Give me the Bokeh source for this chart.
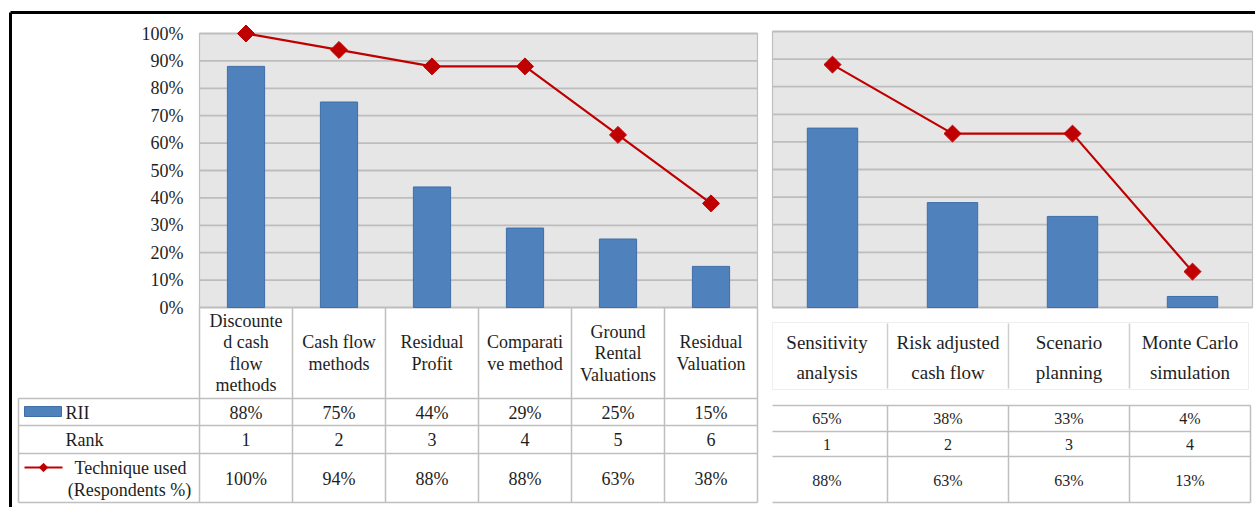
import math
from bokeh.plotting import figure
from bokeh.models import Range1d
from bokeh.embed import file_html
from bokeh.resources import INLINE
from bokeh.core.properties import value

# ---------------- data ----------------
left_categories = ["Discounte\nd cash\nflow\nmethods", "Cash flow\nmethods", "Residual\nProfit",
                   "Comparati\nve method", "Ground\nRental\nValuations", "Residual\nValuation"]
left_rii = [0.88, 0.75, 0.44, 0.29, 0.25, 0.15]
left_rank = [1, 2, 3, 4, 5, 6]
left_used = [1.00, 0.94, 0.88, 0.88, 0.63, 0.38]

right_categories = ["Sensitivity\nanalysis", "Risk adjusted\ncash flow", "Scenario\nplanning",
                    "Monte Carlo\nsimulation"]
right_rii = [0.65, 0.38, 0.33, 0.04]
right_rank = [1, 2, 3, 4]
right_used = [0.88, 0.63, 0.63, 0.13]

y_ticks = [0.0, 0.1, 0.2, 0.3, 0.4, 0.5, 0.6, 0.7, 0.8, 0.9, 1.0]
y_tick_labels = ["0%", "10%", "20%", "30%", "40%", "50%", "60%", "70%", "80%", "90%", "100%"]
series_rii_name = "RII"
series_rank_name = "Rank"
series_used_name = ["Technique used", "(Respondents %)"]

# ---------------- layout constants ----------------
W, H = 1255, 507
LX0, LX1, LY0, LY1 = 199, 757, 307, 33      # left plot area (px)
RX0, RX1, RY0, RY1 = 772, 1252, 307, 31     # right plot area (px)
RTX0, RTX1 = 766, 1250                      # right table columns (px)

FONT = value("Liberation Serif")
TXT = "#1e1e1e"
GRID = "#BDBDBD"
BG = "#E6E6E6"
BLUE = "#4F81BD"
BLUE_EDGE = "#3F6EA6"
RED = "#C00000"
TLINE = "#BFBFBF"


def cat_range(x0, x1, n):
    u = (x1 - x0) / n
    return Range1d(start=-x0 / u, end=n + (W - x1) / u)


def pct_range(y0, y1):
    u = y0 - y1
    return Range1d(start=-(H - y0) / u, end=1 + y1 / u)


def pct(v):
    return f"{round(v * 100)}%"


p = figure(width=W, height=H, x_range=Range1d(0, W), y_range=Range1d(H, 0),
           x_axis_type=None, y_axis_type=None, min_border=0,
           toolbar_location=None, output_backend="svg",
           outline_line_color=None, background_fill_color="white",
           border_fill_color="white")
p.grid.visible = False
p.extra_x_ranges = {"L": cat_range(LX0, LX1, len(left_categories)),
                    "R": cat_range(RX0, RX1, len(right_categories)),
                    "RT": cat_range(RTX0, RTX1, len(right_categories))}
p.extra_y_ranges = {"pL": pct_range(LY0, LY1), "pR": pct_range(RY0, RY1)}


def panel(xr, yr, cats, rii, used, bar_w):
    n = len(cats)
    p.quad(left=0, right=n, bottom=0, top=1, x_range_name=xr, y_range_name=yr,
           fill_color=BG, line_color=TLINE, line_width=1.2)
    p.segment(x0=[0] * len(y_ticks), x1=[n] * len(y_ticks), y0=y_ticks, y1=y_ticks,
              x_range_name=xr, y_range_name=yr, line_color=GRID, line_width=1.8)
    xs = [i + 0.5 for i in range(n)]
    p.vbar(x=xs, top=rii, bottom=0, width=bar_w, x_range_name=xr, y_range_name=yr,
           fill_color=BLUE, line_color=BLUE_EDGE, line_width=1)
    p.line(xs, used, x_range_name=xr, y_range_name=yr, line_color=RED, line_width=2.2)
    p.scatter(xs, used, x_range_name=xr, y_range_name=yr, marker="square",
              angle=math.pi / 4, size=12, fill_color=RED, line_color=RED)


panel("L", "pL", left_categories, left_rii, left_used, 0.4)
panel("R", "pR", right_categories, right_rii, right_used, 0.42)

# y tick labels
p.text(x=[183] * len(y_ticks), y=y_ticks, text=y_tick_labels, y_range_name="pL",
       text_align="right", text_baseline="middle", text_font=FONT,
       text_font_size="18px", text_color=TXT)


def header(xr, cats, yc, lh, size):
    xs, ys, ts = [], [], []
    for i, c in enumerate(cats):
        lines = c.split("\n")
        for k, t in enumerate(lines):
            xs.append(i + 0.5)
            ys.append(yc + (k - (len(lines) - 1) / 2) * lh)
            ts.append(t)
    p.text(x=xs, y=ys, text=ts, x_range_name=xr, text_align="center",
           text_baseline="middle", text_font=FONT, text_font_size=size, text_color=TXT)


# ---------- left table ----------
nL = len(left_categories)
p.segment(x0=list(range(nL + 1)), x1=list(range(nL + 1)), y0=[LY0] * (nL + 1),
          y1=[502] * (nL + 1), x_range_name="L", line_color=TLINE, line_width=1.5)
p.segment(x0=[18] * 4, x1=[LX1] * 4, y0=[398, 425, 453, 502], y1=[398, 425, 453, 502],
          line_color=TLINE, line_width=1.5)
p.segment(x0=[18], x1=[18], y0=[398], y1=[502], line_color=TLINE, line_width=1.5)
header("L", left_categories, 352.5, 21.5, "18px")
xsL = [i + 0.5 for i in range(nL)]
for vals, yv in ((list(map(pct, left_rii)), 412), ([str(r) for r in left_rank], 439),
                 (list(map(pct, left_used)), 478)):
    p.text(x=xsL, y=[yv] * nL, text=vals, x_range_name="L", text_align="center",
           text_baseline="middle", text_font=FONT, text_font_size="18px", text_color=TXT)

# legend column
p.quad(left=24, right=61, top=406, bottom=416, fill_color=BLUE, line_color=BLUE_EDGE)
p.text(x=[65, 65], y=[412, 439], text=[series_rii_name, series_rank_name],
       text_align="left", text_baseline="middle", text_font=FONT,
       text_font_size="18px", text_color=TXT)
p.segment(x0=[24], x1=[62], y0=[467], y1=[467], line_color=RED, line_width=2)
p.scatter([43], [467], marker="square", angle=math.pi / 4, size=6,
          fill_color=RED, line_color=RED)
p.text(x=[130, 129], y=[467, 489], text=series_used_name, text_align="center",
       text_baseline="middle", text_font=FONT, text_font_size="18px", text_color=TXT)

# ---------- right table ----------
nR = len(right_categories)
p.quad(left=772, right=1248, top=322, bottom=389, fill_color=None,
       line_color="#EEEEEE", line_width=1)
p.segment(x0=list(range(1, nR)), x1=list(range(1, nR)), y0=[323] * (nR - 1),
          y1=[388] * (nR - 1), x_range_name="RT", line_color="#CFCFCF", line_width=1.5)
header("RT", right_categories, 357, 30, "19px")
p.segment(x0=[772] * 4, x1=[1250] * 4, y0=[405, 431, 456, 502], y1=[405, 431, 456, 502],
          line_color=TLINE, line_width=1.5)
p.segment(x0=list(range(1, nR + 1)), x1=list(range(1, nR + 1)), y0=[405] * nR,
          y1=[502] * nR, x_range_name="RT", line_color=TLINE, line_width=1.5)
xsR = [i + 0.5 for i in range(nR)]
for vals, yv in ((list(map(pct, right_rii)), 418), ([str(r) for r in right_rank], 444),
                 (list(map(pct, right_used)), 480)):
    p.text(x=xsR, y=[yv] * nR, text=vals, x_range_name="RT", text_align="center",
           text_baseline="middle", text_font=FONT, text_font_size="16px", text_color=TXT)

# outer frame
p.segment(x0=[10, 10], x1=[W, 10], y0=[12, 12], y1=[12, H], line_color="black", line_width=3)

open("out.html", "w").write(file_html(p, INLINE))
